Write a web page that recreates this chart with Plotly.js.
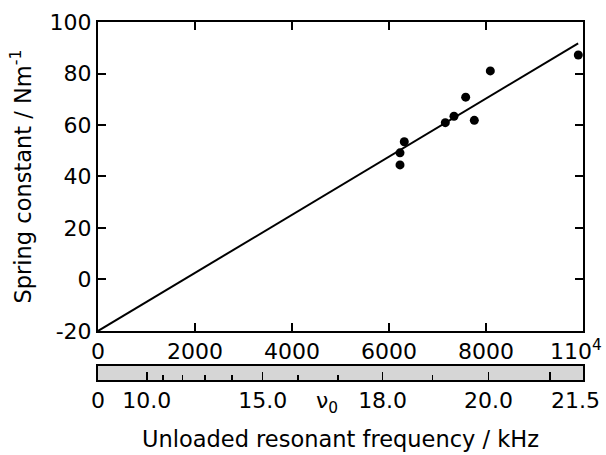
<!DOCTYPE html>
<html>
<head>
<meta charset="utf-8">
<script src="https://cdn.plot.ly/plotly-3.0.1.min.js"></script>
<style>html,body{margin:0;padding:0;background:#fff;}#chart{width:606px;height:455px;}</style>
</head>
<body>
<div id="chart"></div>
<script>
// Measured points: unloaded-frequency-derived quantity vs spring constant
const pointX = [6227, 6227, 6315, 7161, 7340, 7581, 7759, 8089, 9903];
const pointY = [44.5, 49.2, 53.5, 60.9, 63.4, 70.8, 61.8, 81.0, 87.2];
// Fitted line
const fitX = [0, 9900];
const fitY = [-20, 91.7];
// Main axis ticks
const xTickVals = [0, 2000, 4000, 6000, 8000, 10000];
const xTickText = ['0', '2000', '4000', '6000', '8000', '110<sup>4</sup>\u00a0\u00a0'];
const yTickVals = [-20, 0, 20, 40, 60, 80, 100];
const yTickText = ['-20', '0', '20', '40', '60', '80', '100'];
// Frequency scale (kHz)
const freqMax = 21.5;
const freqMajor = [0, 10, 15, 18, 20, 21];
const freqMajorText = ['0', '10.0', '15.0', '18.0', '20.0', ''];
const freqMinor = [11, 12, 13, 14, 16, 17, 19];
const freqEndLabel = '21.5';
const nu0Freq = 16.75;

const xMax = 10000;
const toX = f => xMax * Math.pow(f / freqMax, 3);

const font = 'DejaVu Sans, Liberation Sans, Arial, sans-serif';

const traces = [
  {x: fitX, y: fitY, mode: 'lines', line: {color: '#000', width: 2}, xaxis: 'x', yaxis: 'y', hoverinfo: 'skip'},
  {x: pointX, y: pointY, mode: 'markers', marker: {color: '#000', size: 9}, xaxis: 'x', yaxis: 'y', cliponaxis: false}
];

const layout = {
  width: 606, height: 455,
  margin: {l: 98, r: 23, t: 22, b: 75},
  paper_bgcolor: '#fff', plot_bgcolor: 'rgba(0,0,0,0)',
  showlegend: false,
  font: {family: font, color: '#000', size: 22},
  xaxis: {
    domain: [0, 1], anchor: 'y', range: [0, xMax],
    tickvals: xTickVals, ticktext: xTickText, ticklabeloverflow: 'allow',
    ticks: 'inside', ticklen: 8, tickwidth: 2, tickcolor: '#000',
    showline: true, linecolor: '#000', linewidth: 2, mirror: 'ticks',
    showgrid: false, zeroline: false, tickfont: {size: 22}
  },
  yaxis: {
    domain: [0.1369, 1], anchor: 'x', range: [-20, 100],
    tickvals: yTickVals, ticktext: yTickText,
    ticks: 'inside', ticklen: 8, tickwidth: 2, tickcolor: '#000',
    showline: true, linecolor: '#000', linewidth: 2, mirror: 'ticks',
    showgrid: false, zeroline: false, tickfont: {size: 22},
    title: {text: 'Spring constant / Nm<sup>-1</sup>', font: {size: 22.5}, standoff: 12}
  },
  xaxis2: {
    domain: [0, 1], anchor: 'y2', range: [0, xMax],
    tickvals: freqMajor.map(toX), ticktext: freqMajorText, ticklabeloverflow: 'allow',
    ticks: 'inside', ticklen: 8, tickwidth: 1.5, tickcolor: '#000',
    minor: {tickvals: freqMinor.map(toX), ticks: 'inside', ticklen: 5, tickwidth: 1.5, tickcolor: '#000', showgrid: false},
    showline: true, linecolor: '#000', linewidth: 2, mirror: true,
    showgrid: false, zeroline: false, tickfont: {size: 22},
    title: {text: 'Unloaded resonant frequency / kHz', font: {size: 22.5}, standoff: 19}
  },
  yaxis2: {
    domain: [0, 0.0391], anchor: 'x2', range: [0, 1],
    showticklabels: false, ticks: '', showgrid: false, zeroline: false,
    showline: true, linecolor: '#000', linewidth: 2, mirror: true
  },
  shapes: [
    {type: 'rect', xref: 'x2 domain', yref: 'y2 domain', x0: 0, x1: 1, y0: 0, y1: 1,
     fillcolor: '#d6d6d6', line: {width: 0}, layer: 'below'}
  ],
  annotations: [
    {x: toX(nu0Freq), y: 0, xref: 'x2', yref: 'y2 domain', yanchor: 'top', yshift: -6,
     text: 'ν<sub>0</sub>', showarrow: false, font: {size: 22}},
    {x: toX(freqMax), y: 0, xref: 'x2', yref: 'y2 domain', xanchor: 'right', yanchor: 'top', yshift: -6, xshift: 19,
     text: freqEndLabel, showarrow: false, font: {size: 22}}
  ]
};

Plotly.newPlot('chart', traces, layout, {displayModeBar: false, staticPlot: true});
</script>
</body>
</html>
